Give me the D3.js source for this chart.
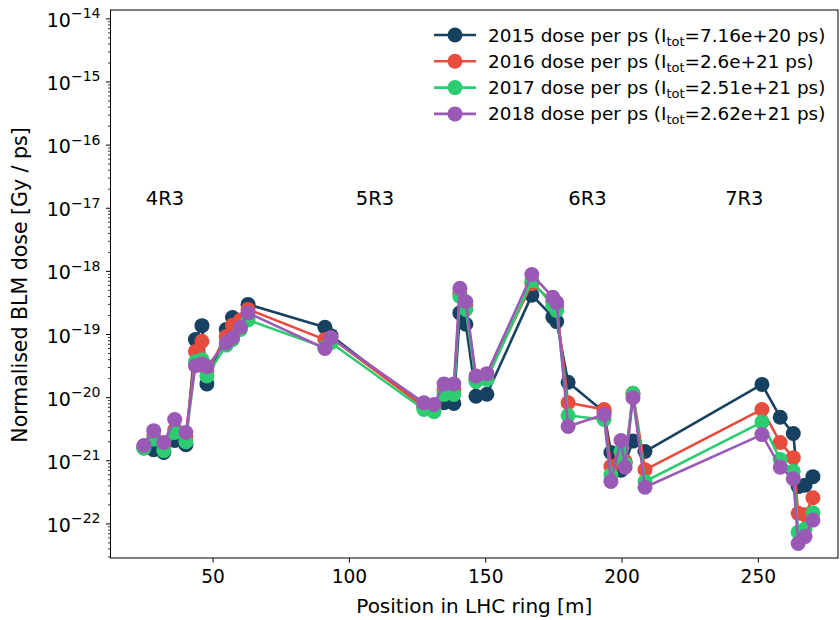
<!DOCTYPE html>
<html>
<head>
<meta charset="utf-8">
<script src="https://cdn.jsdelivr.net/npm/d3@7"></script>
<style>
  body { margin: 0; background: #fff; }
  text { font-family: "DejaVu Sans", sans-serif; fill: #000; }
</style>
</head>
<body>
<svg id="chart" width="840" height="620"></svg>
<script>
// BLM positions along the ring [m]
const positions = [24.8, 28.4, 32.1, 36.1, 40.2, 43.7, 46.1, 47.9, 55.0, 57.3, 60.2, 63.0,
  91.2, 93.4, 127.5, 131.2, 134.9, 138.5, 140.7, 142.9, 146.6, 150.6,
  167.1, 174.8, 176.2, 180.4, 193.6, 196.1, 199.8, 201.3, 204.2, 208.6,
  251.5, 258.2, 263.0, 264.8, 267.3, 270.2];

// Normalised dose per year [Gy / ps]
const dose2015 = [1.6e-21, 1.5e-21, 1.35e-21, 2.1e-21, 1.8e-21, 8.3e-20, 1.38e-19, 1.65e-20, 1.2e-19, 1.86e-19, 1.6e-19, 3.0e-19,
  1.3e-19, 9.6e-20, 7.2e-21, 7.5e-21, 8.3e-21, 8.1e-21, 2.2e-19, 1.45e-19, 1.05e-20, 1.13e-20,
  4.2e-19, 1.9e-19, 1.6e-19, 1.75e-20, 5.9e-21, 1.35e-21, 7.1e-22, 9.5e-22, 2.05e-21, 1.4e-21,
  1.62e-20, 4.9e-21, 2.7e-21, 3.9e-22, 4.1e-22, 5.6e-22];
const dose2016 = [1.7e-21, 2.4e-21, 1.8e-21, 3.1e-21, 2.4e-21, 5.4e-20, 7.8e-20, 2.6e-20, 9.3e-20, 1.4e-19, 1.7e-19, 2.5e-19,
  8.3e-20, 8.9e-20, 7.2e-21, 6.7e-21, 1.3e-20, 1.3e-20, 4.5e-19, 2.9e-19, 1.95e-20, 2.1e-20,
  6.4e-19, 3.3e-19, 2.75e-19, 8.3e-21, 6.5e-21, 8.1e-22, 1.0e-21, 9.8e-22, 1.17e-20, 7.2e-22,
  6.5e-21, 1.95e-21, 1.12e-21, 1.47e-22, 1.4e-22, 2.6e-22];
const dose2017 = [1.6e-21, 2.2e-21, 1.45e-21, 2.8e-21, 2.0e-21, 3.7e-20, 4.0e-20, 2.2e-20, 6.8e-20, 8.3e-20, 1.2e-19, 1.7e-19,
  6.2e-20, 7.4e-20, 6.5e-21, 6.0e-21, 1.12e-20, 1.12e-20, 4.0e-19, 2.5e-19, 1.8e-20, 1.95e-20,
  7.1e-19, 2.9e-19, 2.4e-19, 5.2e-21, 4.5e-21, 6.0e-22, 1.4e-21, 9.0e-22, 1.17e-20, 4.7e-22,
  4.1e-21, 1.05e-21, 6.8e-22, 7.4e-23, 8.3e-23, 1.5e-22];
const dose2018 = [1.75e-21, 3.0e-21, 1.95e-21, 4.5e-21, 2.8e-21, 3.2e-20, 3.4e-20, 3.1e-20, 7.4e-20, 8.9e-20, 1.3e-19, 2.2e-19,
  6.0e-20, 8.9e-20, 8.3e-21, 7.8e-21, 1.65e-20, 1.65e-20, 5.4e-19, 3.3e-19, 2.2e-20, 2.4e-20,
  8.9e-19, 3.9e-19, 3.2e-19, 3.5e-21, 5.4e-21, 4.7e-22, 2.1e-21, 7.9e-22, 1.0e-20, 3.8e-22,
  2.6e-21, 7.9e-22, 5.2e-22, 4.9e-23, 6.3e-23, 1.15e-22];

const years = ["2015", "2016", "2017", "2018"];
const itot = ["7.16e+20", "2.6e+21", "2.51e+21", "2.62e+21"];
const colors = ["#174160", "#e74c3c", "#2ecc71", "#9b59b6"];
const doses = [dose2015, dose2016, dose2017, dose2018];

// Cell labels and where they sit
const cellNames = ["4R3", "5R3", "6R3", "7R3"];
const cellX = [25.5, 102.5, 180.5, 238];
const cellY = 1e-17;

const xTicks = [50, 100, 150, 200, 250];
const yExps = [-22, -21, -20, -19, -18, -17, -16, -15, -14];

const svg = d3.select("#chart");
const L = 110.5, R = 838, T = 10, B = 558;

const x = d3.scaleLinear().domain([12.55, 279.4]).range([L, R]);
const y = d3.scaleLog().domain([Math.pow(10, -22.54), Math.pow(10, -13.86)]).range([B, T]);

// x axis
const xAxis = svg.append("g").attr("transform", `translate(0,${B})`)
  .call(d3.axisBottom(x).tickValues(xTicks).tickSize(4.5).tickPadding(7).tickFormat(d3.format("d")));
xAxis.select(".domain").remove();
xAxis.selectAll(".tick line").attr("stroke", "#000").attr("stroke-width", 1);
xAxis.selectAll(".tick text").attr("font-size", 18.6).attr("font-family", "DejaVu Sans");

// y axis: minor ticks then majors with superscript labels
const minor = [];
for (let e = -23; e <= -14; e++) for (let m = 2; m <= 9; m++) {
  const v = m * Math.pow(10, e);
  if (v >= y.domain()[0] && v <= y.domain()[1]) minor.push(v);
}
const yg = svg.append("g");
yg.selectAll("line.minor").data(minor).join("line")
  .attr("x1", L - 2.5).attr("x2", L).attr("y1", d => y(d)).attr("y2", d => y(d))
  .attr("stroke", "#000").attr("stroke-width", 0.8);
yg.selectAll("line.major").data(yExps).join("line")
  .attr("x1", L - 4.5).attr("x2", L).attr("y1", d => y(Math.pow(10, d))).attr("y2", d => y(Math.pow(10, d)))
  .attr("stroke", "#000").attr("stroke-width", 1);
const yl = yg.selectAll("text.ylab").data(yExps).join("text")
  .attr("x", L - 10).attr("y", d => y(Math.pow(10, d)) + 8)
  .attr("text-anchor", "end").attr("font-size", 19);
yl.append("tspan").text("10");
yl.append("tspan").attr("dy", -8.5).attr("font-size", 14).text(d => "\u2212" + Math.abs(d));

// series lines and markers
const line = d3.line().x((d, i) => x(positions[i])).y(d => y(d));
doses.forEach((vals, k) => {
  svg.append("path").datum(vals).attr("d", line)
    .attr("fill", "none").attr("stroke", colors[k]).attr("stroke-width", 2.6).attr("stroke-linejoin", "round");
  svg.append("g").selectAll("circle").data(vals).join("circle")
    .attr("cx", (d, i) => x(positions[i])).attr("cy", d => y(d)).attr("r", 7.5)
    .attr("fill", colors[k]);
});

// frame
svg.append("rect").attr("x", L).attr("y", T).attr("width", R - L).attr("height", B - T)
  .attr("fill", "none").attr("stroke", "#000").attr("stroke-width", 1);

// cell labels
svg.selectAll("text.cell").data(cellNames).join("text")
  .attr("x", (d, i) => x(cellX[i])).attr("y", y(cellY) - 3)
  .attr("font-size", 19.5).text(d => d);

// axis titles
svg.append("text").attr("x", (L + R) / 2).attr("y", 613).attr("text-anchor", "middle")
  .attr("font-size", 20).text("Position in LHC ring [m]");
svg.append("text").attr("transform", `translate(27,${285}) rotate(-90)`).attr("text-anchor", "middle")
  .attr("font-size", 20.5).text("Normalised BLM dose [Gy / ps]");

// legend
const lg = svg.append("g");
years.forEach((yr, k) => {
  const cy = 35 + k * 26.3;
  lg.append("line").attr("x1", 434).attr("x2", 476).attr("y1", cy).attr("y2", cy)
    .attr("stroke", colors[k]).attr("stroke-width", 2.6);
  lg.append("circle").attr("cx", 455).attr("cy", cy).attr("r", 7.5).attr("fill", colors[k]);
  const t = lg.append("text").attr("x", 488).attr("y", cy + 6.5).attr("font-size", 18.4);
  t.append("tspan").text(`${yr} dose per ps (I`);
  t.append("tspan").attr("dy", 4).attr("font-size", 13).text("tot");
  t.append("tspan").attr("dy", -4).text(`=${itot[k]} ps)`);
});
</script>
</body>
</html>
